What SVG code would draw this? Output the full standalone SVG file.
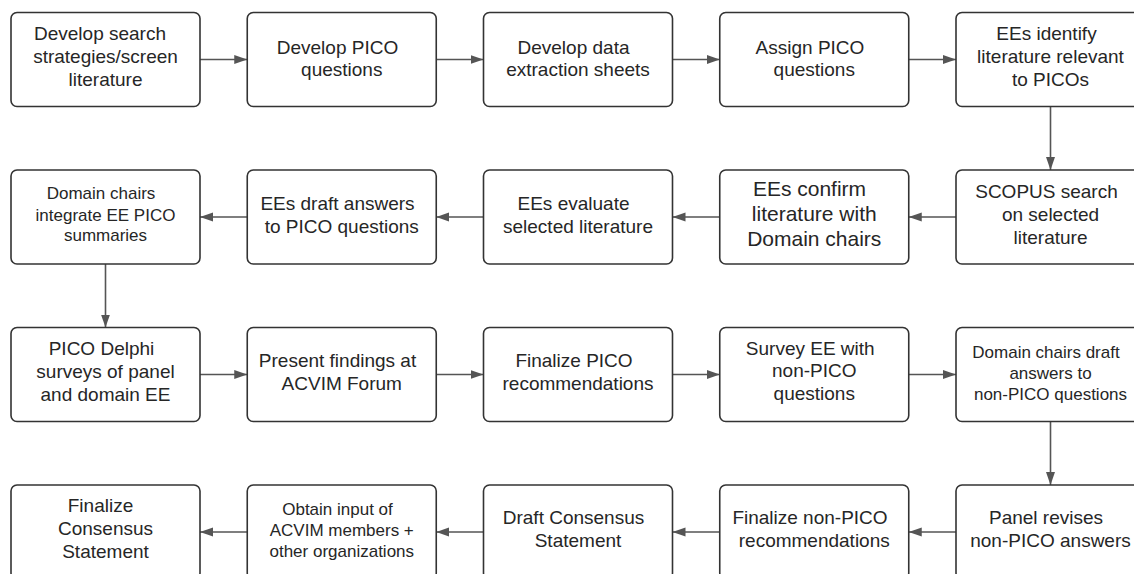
<svg xmlns="http://www.w3.org/2000/svg" width="1134" height="574" viewBox="0 0 1134 574">
<defs>
<style>
.box{fill:#fff;stroke:#333;stroke-width:1.6}
.t{font-family:"Liberation Sans",Arial,sans-serif;fill:#262626;text-anchor:middle}
.f19{font-size:19px}
.f17{font-size:17px}
.f21{font-size:21px}
.c{stroke:#555;stroke-width:1.6;fill:none;marker-end:url(#ah)}
</style>
<marker id="ah" markerUnits="userSpaceOnUse" markerWidth="14" markerHeight="10" refX="13" refY="4.5" orient="auto">
<path d="M0,0 L13,4.5 L0,9 z" fill="#555"/>
</marker>
</defs>
<rect width="1134" height="574" fill="#fff"/>
<g id="connectors">
<line class="c" x1="200" y1="59.5" x2="247.25" y2="59.5"/>
<line class="c" x1="436.25" y1="59.5" x2="483.5" y2="59.5"/>
<line class="c" x1="672.5" y1="59.5" x2="719.75" y2="59.5"/>
<line class="c" x1="908.75" y1="59.5" x2="956" y2="59.5"/>
<line class="c" x1="1050.5" y1="106.5" x2="1050.5" y2="170"/>
<line class="c" x1="956" y1="217" x2="908.75" y2="217"/>
<line class="c" x1="719.75" y1="217" x2="672.5" y2="217"/>
<line class="c" x1="483.5" y1="217" x2="436.25" y2="217"/>
<line class="c" x1="247.25" y1="217" x2="200" y2="217"/>
<line class="c" x1="105.5" y1="264" x2="105.5" y2="327.5"/>
<line class="c" x1="200" y1="374.5" x2="247.25" y2="374.5"/>
<line class="c" x1="436.25" y1="374.5" x2="483.5" y2="374.5"/>
<line class="c" x1="672.5" y1="374.5" x2="719.75" y2="374.5"/>
<line class="c" x1="908.75" y1="374.5" x2="956" y2="374.5"/>
<line class="c" x1="1050.5" y1="421.5" x2="1050.5" y2="485"/>
<line class="c" x1="956" y1="532" x2="908.75" y2="532"/>
<line class="c" x1="719.75" y1="532" x2="672.5" y2="532"/>
<line class="c" x1="483.5" y1="532" x2="436.25" y2="532"/>
<line class="c" x1="247.25" y1="532" x2="200" y2="532"/>
</g>
<g id="n1"><rect class="box" x="11" y="12.5" width="189" height="94" rx="6"/>
<text class="t f19"><tspan x="100" y="40">Develop search</tspan><tspan x="105.5" y="63">strategies/screen</tspan><tspan x="105.5" y="86">literature</tspan></text></g>
<g id="n2"><rect class="box" x="247.25" y="12.5" width="189" height="94" rx="6"/>
<text class="t f19"><tspan x="337.5" y="53.5">Develop PICO</tspan><tspan x="341.75" y="76">questions</tspan></text></g>
<g id="n3"><rect class="box" x="483.5" y="12.5" width="189" height="94" rx="6"/>
<text class="t f19"><tspan x="573.5" y="53.5">Develop data</tspan><tspan x="578" y="76">extraction sheets</tspan></text></g>
<g id="n4"><rect class="box" x="719.75" y="12.5" width="189" height="94" rx="6"/>
<text class="t f19"><tspan x="810" y="53.5">Assign PICO</tspan><tspan x="814.25" y="76">questions</tspan></text></g>
<g id="n5"><rect class="box" x="956" y="12.5" width="189" height="94" rx="6"/>
<text class="t f19"><tspan x="1046.5" y="40">EEs identify</tspan><tspan x="1050.5" y="63">literature relevant</tspan><tspan x="1050.5" y="86">to PICOs</tspan></text></g>

<g id="n6"><rect class="box" x="956" y="170" width="189" height="94" rx="6"/>
<text class="t f19"><tspan x="1046.5" y="197.5">SCOPUS search</tspan><tspan x="1050.5" y="220.5">on selected</tspan><tspan x="1050.5" y="243.5">literature</tspan></text></g>
<g id="n7"><rect class="box" x="719.75" y="170" width="189" height="94" rx="6"/>
<text class="t f21"><tspan x="809.5" y="196">EEs confirm</tspan><tspan x="814.25" y="221">literature with</tspan><tspan x="814.25" y="246">Domain chairs</tspan></text></g>
<g id="n8"><rect class="box" x="483.5" y="170" width="189" height="94" rx="6"/>
<text class="t f19"><tspan x="573.5" y="209.5">EEs evaluate</tspan><tspan x="578" y="232.5">selected literature</tspan></text></g>
<g id="n9"><rect class="box" x="247.25" y="170" width="189" height="94" rx="6"/>
<text class="t f19"><tspan x="337.5" y="209.5">EEs draft answers</tspan><tspan x="341.75" y="232.5">to PICO questions</tspan></text></g>
<g id="n10"><rect class="box" x="11" y="170" width="189" height="94" rx="6"/>
<text class="t f17"><tspan x="101" y="199">Domain chairs</tspan><tspan x="105.5" y="220.5">integrate EE PICO</tspan><tspan x="105.5" y="241">summaries</tspan></text></g>

<g id="n11"><rect class="box" x="11" y="327.5" width="189" height="94" rx="6"/>
<text class="t f19"><tspan x="101.5" y="355">PICO Delphi</tspan><tspan x="105.5" y="377.5">surveys of panel</tspan><tspan x="105.5" y="401">and domain EE</tspan></text></g>
<g id="n12"><rect class="box" x="247.25" y="327.5" width="189" height="94" rx="6"/>
<text class="t f19"><tspan x="337.5" y="367">Present findings at</tspan><tspan x="341.75" y="390">ACVIM Forum</tspan></text></g>
<g id="n13"><rect class="box" x="483.5" y="327.5" width="189" height="94" rx="6"/>
<text class="t f19"><tspan x="574" y="367">Finalize PICO</tspan><tspan x="578" y="390">recommendations</tspan></text></g>
<g id="n14"><rect class="box" x="719.75" y="327.5" width="189" height="94" rx="6"/>
<text class="t f19"><tspan x="810.25" y="355">Survey EE with</tspan><tspan x="814.25" y="377">non-PICO</tspan><tspan x="814.25" y="400">questions</tspan></text></g>
<g id="n15"><rect class="box" x="956" y="327.5" width="189" height="94" rx="6"/>
<text class="t f17"><tspan x="1046" y="357.5">Domain chairs draft</tspan><tspan x="1050.5" y="378.5">answers to</tspan><tspan x="1050.5" y="399.5">non-PICO questions</tspan></text></g>

<g id="n16"><rect class="box" x="956" y="485" width="189" height="94" rx="6"/>
<text class="t f19"><tspan x="1046" y="524">Panel revises</tspan><tspan x="1050.5" y="547">non-PICO answers</tspan></text></g>
<g id="n17"><rect class="box" x="719.75" y="485" width="189" height="94" rx="6"/>
<text class="t f19"><tspan x="810" y="524">Finalize non-PICO</tspan><tspan x="814.25" y="547">recommendations</tspan></text></g>
<g id="n18"><rect class="box" x="483.5" y="485" width="189" height="94" rx="6"/>
<text class="t f19"><tspan x="573.5" y="524">Draft Consensus</tspan><tspan x="578" y="547">Statement</tspan></text></g>
<g id="n19"><rect class="box" x="247.25" y="485" width="189" height="94" rx="6"/>
<text class="t f17"><tspan x="337.5" y="514.5">Obtain input of</tspan><tspan x="341.75" y="536">ACVIM members +</tspan><tspan x="341.75" y="557">other organizations</tspan></text></g>
<g id="n20"><rect class="box" x="11" y="485" width="189" height="94" rx="6"/>
<text class="t f19"><tspan x="100.5" y="512">Finalize</tspan><tspan x="105.5" y="535">Consensus</tspan><tspan x="105.5" y="558">Statement</tspan></text></g>
</svg>
